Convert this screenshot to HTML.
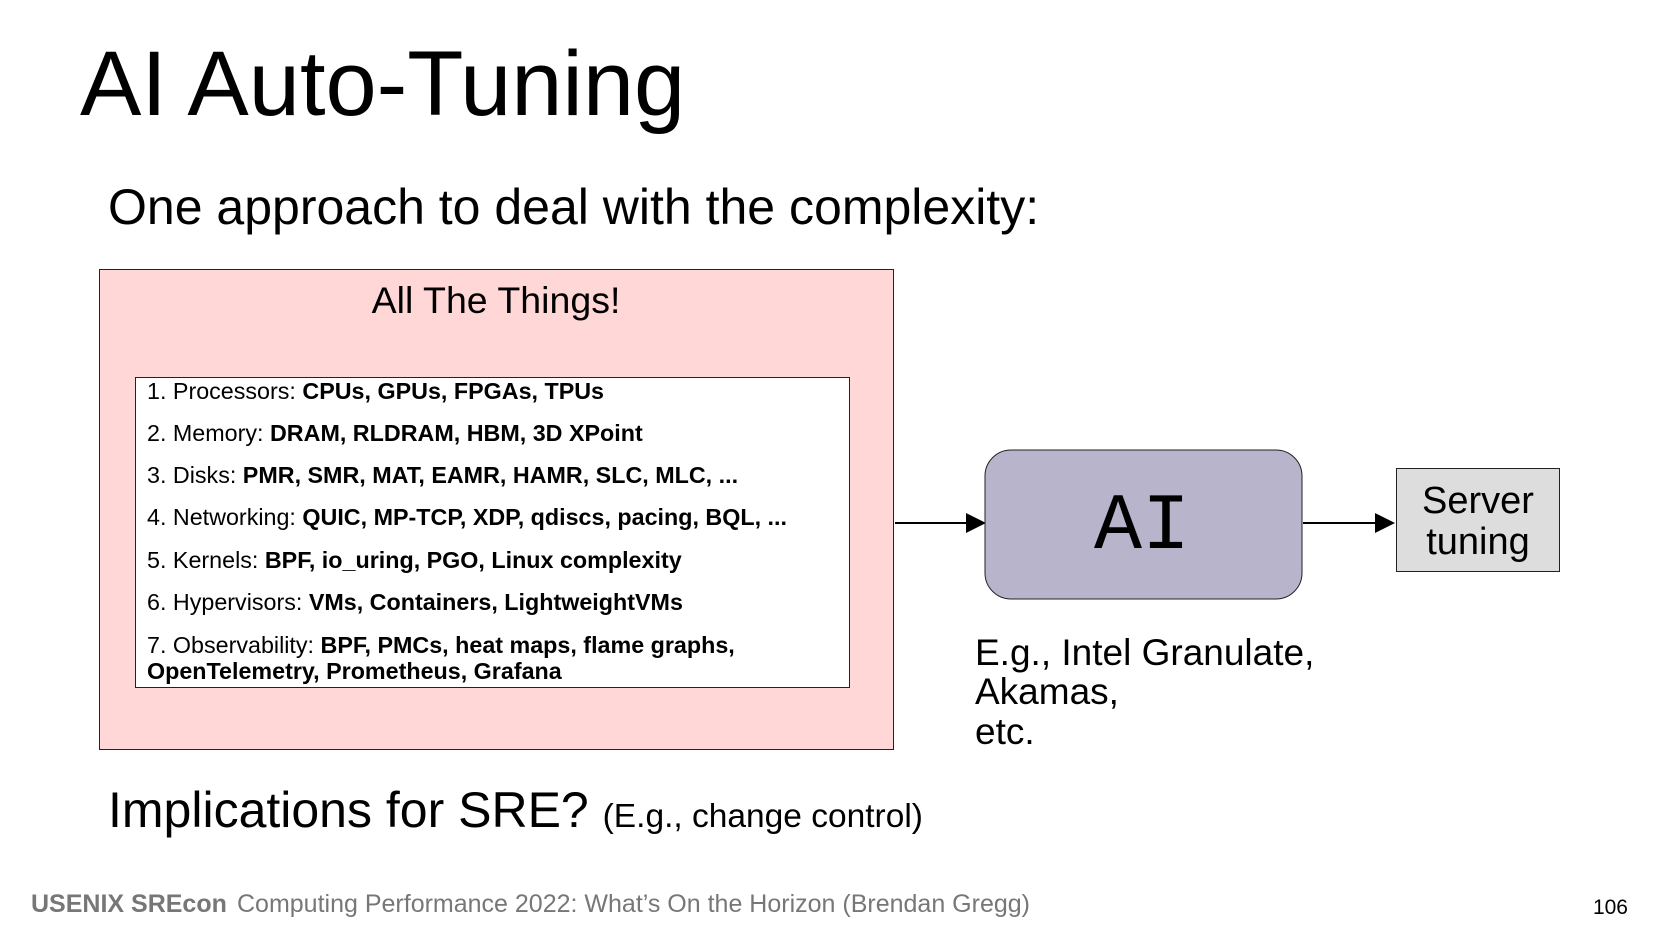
<!DOCTYPE html>
<html><head><meta charset="utf-8"><style>html,body{margin:0;padding:0;background:#fff;}svg{display:block}</style></head>
<body>
<svg width="1654" height="931" xmlns="http://www.w3.org/2000/svg" font-family="'Liberation Sans', sans-serif">
<text x="80" y="115" font-size="92">AI Auto-Tuning</text>
<text x="108" y="224" font-size="50">One approach to deal with the complexity:</text>
<rect x="99.5" y="269.5" width="794" height="480" fill="#ffd7d7" stroke="#222" stroke-width="1"/>
<text x="496" y="313" font-size="37.5" text-anchor="middle">All The Things!</text>
<rect x="135.5" y="377.5" width="714" height="310" fill="#fff" stroke="#222" stroke-width="1"/>
<g font-size="23.3">
<text x="147" y="399">1. Processors: <tspan font-weight="bold">CPUs, GPUs, FPGAs, TPUs</tspan></text>
<text x="147" y="441">2. Memory: <tspan font-weight="bold">DRAM, RLDRAM, HBM, 3D XPoint</tspan></text>
<text x="147" y="483">3. Disks: <tspan font-weight="bold">PMR, SMR, MAT, EAMR, HAMR, SLC, MLC, ...</tspan></text>
<text x="147" y="525">4. Networking: <tspan font-weight="bold">QUIC, MP-TCP, XDP, qdiscs, pacing, BQL, ...</tspan></text>
<text x="147" y="568">5. Kernels: <tspan font-weight="bold">BPF, io_uring, PGO, Linux complexity</tspan></text>
<text x="147" y="610">6. Hypervisors: <tspan font-weight="bold">VMs, Containers, LightweightVMs</tspan></text>
<text x="147" y="653">7. Observability: <tspan font-weight="bold">BPF, PMCs, heat maps, flame graphs,</tspan></text>
<text x="147" y="679" font-weight="bold">OpenTelemetry, Prometheus, Grafana</text>
</g>
<line x1="895" y1="523" x2="968" y2="523" stroke="#000" stroke-width="2"/>
<polygon points="966,513 986,523 966,533" fill="#000"/>
<rect x="985" y="450" width="317" height="149" rx="26" fill="#b8b4cc" stroke="#222" stroke-width="1"/>
<text x="1142" y="548" font-size="80" text-anchor="middle" font-family="'Liberation Mono', monospace">AI</text>
<line x1="1303" y1="523" x2="1377" y2="523" stroke="#000" stroke-width="2"/>
<polygon points="1375,513 1395,523 1375,533" fill="#000"/>
<rect x="1396.5" y="468.5" width="163" height="103" fill="#ddd" stroke="#222" stroke-width="1"/>
<text x="1478" y="513" font-size="38" text-anchor="middle">Server</text>
<text x="1478" y="554" font-size="38" text-anchor="middle">tuning</text>
<g font-size="37">
<text x="975" y="665">E.g., Intel Granulate,</text>
<text x="975" y="704">Akamas,</text>
<text x="975" y="744">etc.</text>
</g>
<text x="108" y="827" font-size="50">Implications for SRE? <tspan font-size="33.5">(E.g., change control)</tspan></text>
<text x="31" y="912" font-size="25" fill="#777"><tspan font-weight="bold">USENIX SREcon</tspan><tspan x="237">Computing Performance 2022: What’s On the Horizon (Brendan Gregg)</tspan></text>
<text x="1628" y="914" font-size="21" text-anchor="end">106</text>
</svg>
</body></html>
